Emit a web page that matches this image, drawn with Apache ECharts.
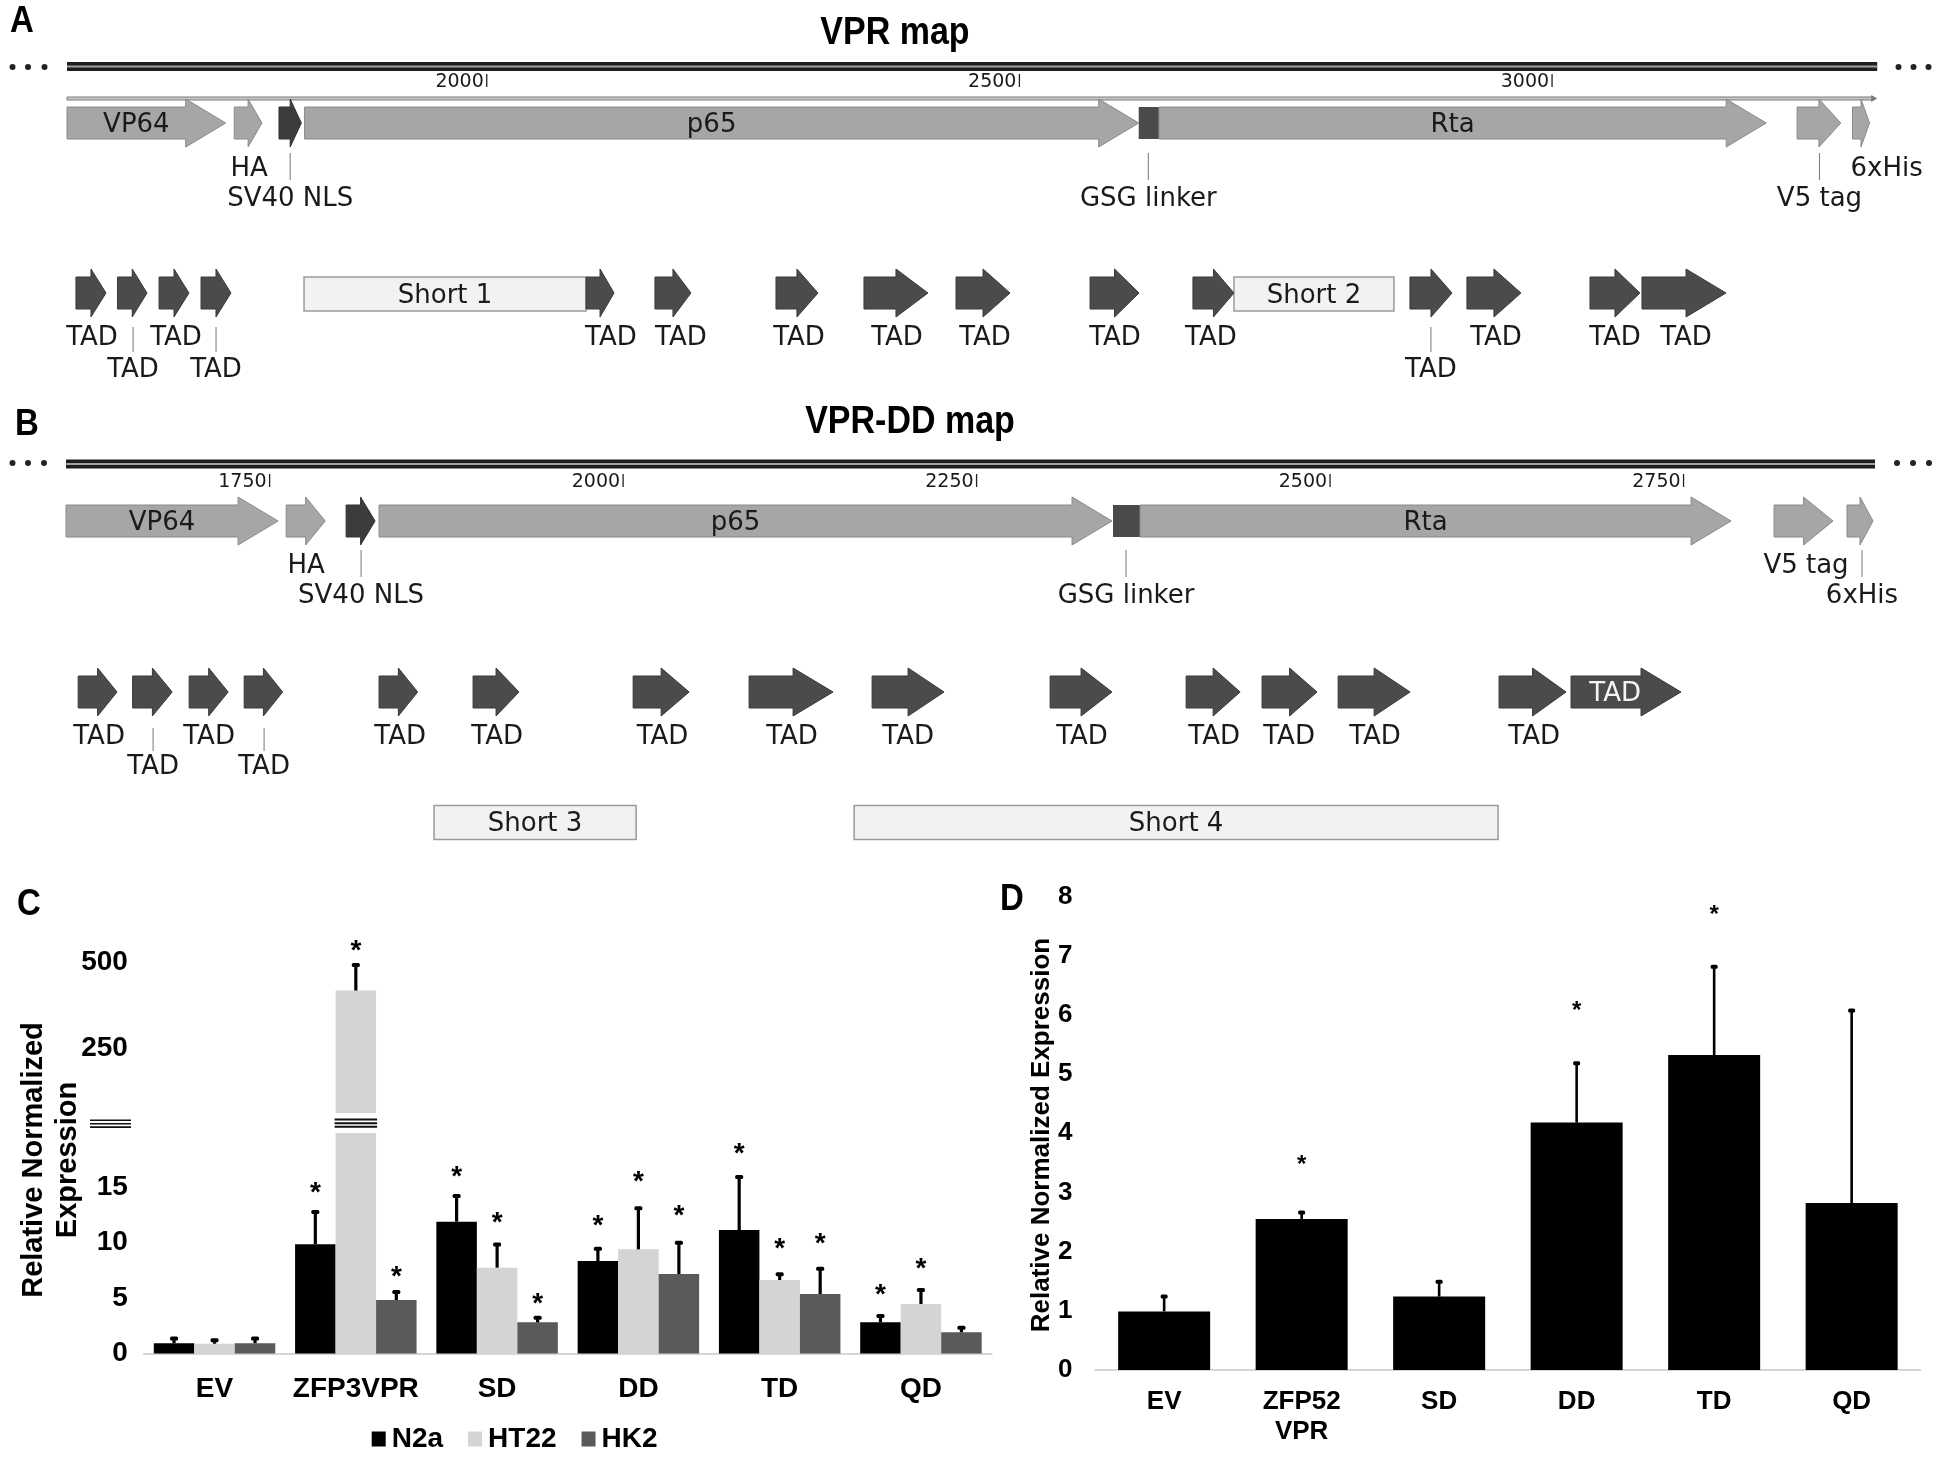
<!DOCTYPE html>
<html>
<head>
<meta charset="utf-8">
<script src="https://cdn.jsdelivr.net/npm/echarts@6/dist/echarts.min.js"></script>
<style>
  html, body { margin: 0; background: #fff; }
  #main { width: 1943px; height: 1461px; }
</style>
</head>
<body>
<div id="main"></div>
<script>
// ---------- Panel A : VPR map (positions in bp) ----------
const rulerTicksA = [2000, 2500, 3000];
// name, start, end, kind, label inside?
const featuresA = [
  ['VP64', 1606, 1755, 'light', true],
  ['HA', 1763, 1789, 'light', false],
  ['SV40 NLS', 1805, 1826, 'dark', false],
  ['p65', 1829, 2612, 'light', true],
  ['GSG linker', 2612, 2631, 'block', false],
  ['Rta', 2631, 3201, 'light', true],
  ['V5 tag', 3230, 3271, 'light', false],
  ['6xHis', 3282, 3298, 'light', false]
];
// text, position, row, leader line
const featLabelsA = [
  ['HA', 1777, 1, false],
  ['SV40 NLS', 1815.5, 2, true],
  ['GSG linker', 2621, 2, true],
  ['V5 tag', 3251, 2, true],
  ['6xHis', 3314, 1, false]
];
// start, end, label position, label row (0 = inside)
const tadA = [
  [1614.4, 1642.6, 1629.5, 1], [1653.4, 1681.1, 1668, 2], [1692.4, 1720.5, 1708.3, 1],
  [1731.8, 1759.9, 1745.9, 2], [2093.2, 2119.5, 2116.6, 1], [2157.9, 2191.7, 2182.3, 1],
  [2271.5, 2310.9, 2293.1, 1], [2354.1, 2414.2, 2385.1, 1], [2440.5, 2491.2, 2467.7, 1],
  [2566.3, 2612.3, 2589.7, 1], [2662.9, 2701.4, 2679.8, 1], [2866.6, 2906.1, 2886.3, 2],
  [2920.1, 2970.8, 2947.4, 1], [3035.6, 3082.5, 3059.1, 1], [3084.4, 3163.3, 3125.7, 1]
];
const shortA = [['Short 1', 1828.5, 2093.2], ['Short 2', 2701.4, 2851.6]];

// ---------- Panel B : VPR-DD map ----------
const rulerTicksB = [1750, 2000, 2250, 2500, 2750];
const featuresB = [
  ['VP64', 1606, 1756, 'light', true],
  ['HA', 1761.7, 1789.3, 'light', false],
  ['SV40 NLS', 1804.1, 1824.6, 'dark', false],
  ['p65', 1827.4, 2345.8, 'light', true],
  ['GSG linker', 2346.5, 2365.6, 'block', false],
  ['Rta', 2365.6, 2783.6, 'light', true],
  ['V5 tag', 2814.0, 2855.7, 'light', false],
  ['6xHis', 2865.6, 2884.0, 'light', false]
];
const featLabelsB = [
  ['HA', 1775.8, 1, false],
  ['SV40 NLS', 1814.7, 2, true],
  ['GSG linker', 2355.7, 2, true],
  ['V5 tag', 2836.6, 1, false],
  ['6xHis', 2876.2, 2, true]
];
const tadB = [
  [1614.6, 1642.1, 1629.4, 1], [1653.1, 1681.1, 1667.6, 2], [1693.1, 1720.7, 1707.2, 1],
  [1732.0, 1759.2, 1746.1, 2], [1827.4, 1854.7, 1842.3, 1], [1893.9, 1926.4, 1910.9, 1],
  [2007.1, 2046.7, 2027.9, 1], [2089.1, 2148.5, 2119.5, 1], [2176.1, 2227.0, 2201.6, 1],
  [2302.0, 2345.8, 2324.6, 1], [2398.2, 2436.4, 2418.0, 1], [2451.9, 2490.8, 2471.0, 1],
  [2505.7, 2556.6, 2531.8, 1], [2619.5, 2666.9, 2644.3, 1], [2670.4, 2748.2, 2701.6, 0]
];
const shortB = [['Short 3', 1866.3, 2009.2], ['Short 4', 2163.4, 2618.8]];

// ---------- Panel C ----------
const catsC = ['EV', 'ZFP3VPR', 'SD', 'DD', 'TD', 'QD'];
const n2a = [0.93, 9.84, 11.87, 8.33, 11.12, 2.81];
const n2aErr = [0.52, 3.0, 2.41, 1.2, 4.87, 0.66];
const n2aStar = [null, 15.0, 16.4, 12.0, 18.5, 5.8];
const ht22 = [0.88, 417, 7.73, 9.38, 6.62, 4.46];
const ht22Err = [0.4, 77, 2.17, 3.79, 0.6, 1.35];
const ht22Star = [null, 549, 12.3, 16.0, 9.9, 8.1];
const hk2 = [0.93, 4.82, 2.81, 7.16, 5.36, 1.91];
const hk2Err = [0.52, 0.81, 0.5, 2.91, 2.37, 0.51];
const hk2Star = [null, 7.4, 5.0, 12.9, 10.4, null];
const ticksCLow = [0, 5, 10, 15];
const ticksCHigh = [250, 500];

// ---------- Panel D ----------
const catsD = ['EV', 'ZFP52\nVPR', 'SD', 'DD', 'TD', 'QD'];
const dVals = [0.99, 2.55, 1.24, 4.18, 5.32, 2.82];
const dErr = [0.27, 0.13, 0.27, 1.02, 1.51, 3.27];
const dStar = [null, 3.54, null, 6.15, 7.76, null];

// axis ranges
const extA = [1606, 3305.2];
const extB = [1606, 2885.4];
const cLowMax = 19.86, cHighMin = 61, cHighMax = 564;

const MAPFONT = '"DejaVu Sans"';
const BOLD = '"Liberation Sans", Arial, sans-serif';
const bwC = 40.5, bwD = 92;
const TXT_DY = 2;   // small downward nudge for map labels

// layout of the two maps (pixel rows)
const layA = { rulerY: 66.5, strandY: 98.5, tickTop: 74, tickBot: 87, tickLabelY: 81, featY: 123,
  featRows: [167, 197], leader: [153, 180], tadY: 293, tadRows: [336, 368], tadLeader: [327, 352], shortY: 294 };
const layB = { rulerY: 464, strandY: null, tickTop: 474, tickBot: 487, tickLabelY: 481, featY: 521,
  featRows: [564, 594], leader: [550, 577], tadY: 692, tadRows: [735, 765], tadLeader: [728, 751], shortY: 822.5 };

function arrowPts(x1, x2, y, bodyH, headH) {
  const hl = Math.min(40, (x2 - x1) / 2);
  const xh = x2 - hl;
  return [[x1, y - bodyH / 2], [xh, y - bodyH / 2], [xh, y - headH / 2], [x2, y],
    [xh, y + headH / 2], [xh, y + bodyH / 2], [x1, y + bodyH / 2]];
}

function txt(text, x, y, size, fill) {
  return { type: 'text', style: { text: text, x: x, y: y + TXT_DY, font: size + 'px ' + MAPFONT,
    fill: fill || '#1a1a1a', align: 'center', verticalAlign: 'middle' } };
}

function mapSeries(g, L, feats, featLabels, tads, shorts, ticks, ext) {
  const base = { type: 'custom', xAxisIndex: g, yAxisIndex: g, silent: true, animation: false, clip: false };
  const X = (api, v) => api.coord([v, 0])[0];
  return [
    // ruler + strand line
    Object.assign({}, base, {
      data: [[ext[0], ext[1]]],
      renderItem: function (p, api) {
        const a = X(api, api.value(0)), b = X(api, api.value(1));
        const y = L.rulerY;
        const ch = [
          { type: 'rect', shape: { x: a, y: y - 4.5, width: b - a, height: 9 }, style: { fill: '#1e1e1e' } },
          { type: 'rect', shape: { x: a, y: y - 1, width: b - a, height: 2 }, style: { fill: '#a0a0a0' } }
        ];
        if (L.strandY) {
          const s = L.strandY;
          ch.push({ type: 'rect', shape: { x: a, y: s - 1.5, width: b - a - 4, height: 3 }, style: { fill: '#c8c8c8', stroke: '#7a7a7a', lineWidth: 1 } });
          ch.push({ type: 'polygon', shape: { points: [[b - 6, s - 3.5], [b, s], [b - 6, s + 3.5]] }, style: { fill: '#7a7a7a' } });
        }
        return { type: 'group', children: ch };
      }
    }),
    // ruler ticks
    Object.assign({}, base, {
      data: ticks.map(t => [t]),
      renderItem: function (p, api) {
        const x = X(api, api.value(0));
        return { type: 'group', children: [
          { type: 'line', shape: { x1: x, y1: L.tickTop, x2: x, y2: L.tickBot }, style: { stroke: '#222', lineWidth: 1.3 } },
          { type: 'text', style: { text: String(api.value(0)), x: x - 3, y: L.tickLabelY + 1, font: '19px ' + MAPFONT,
            fill: '#1a1a1a', align: 'right', verticalAlign: 'middle' } }
        ] };
      }
    }),
    // short boxes
    Object.assign({}, base, {
      data: shorts.map(s => [s[1], s[2]]),
      renderItem: function (p, api) {
        const a = X(api, api.value(0)), b = X(api, api.value(1));
        return { type: 'group', children: [
          { type: 'rect', shape: { x: a, y: L.shortY - 17, width: b - a, height: 34 },
            style: { fill: '#f2f2f2', stroke: '#9a9a9a', lineWidth: 1.5 } },
          txt(shorts[p.dataIndex][0], (a + b) / 2, L.shortY, 26)
        ] };
      }
    }),
    // features
    Object.assign({}, base, {
      data: feats.map(f => [f[1], f[2]]),
      renderItem: function (p, api) {
        const f = feats[p.dataIndex];
        const a = X(api, api.value(0)), b = X(api, api.value(1));
        const y = L.featY;
        const ch = [];
        if (f[3] === 'block') {
          ch.push({ type: 'rect', shape: { x: a, y: y - 16, width: b - a, height: 32 }, style: { fill: '#4a4a4a' } });
        } else {
          const dark = f[3] === 'dark';
          ch.push({ type: 'polygon', shape: { points: arrowPts(a, b, y, 32, 48) },
            style: { fill: dark ? '#3c3c3c' : '#a6a6a6', stroke: dark ? '#333' : '#8a8a8a', lineWidth: 1 } });
        }
        if (f[4]) {
          const hl = Math.min(40, (b - a) / 2);
          ch.push(txt(f[0], (a + b) / 2 - hl / 4, y, 26));
        }
        return { type: 'group', children: ch };
      }
    }),
    // feature labels outside
    Object.assign({}, base, {
      data: featLabels.map(l => [l[1]]),
      renderItem: function (p, api) {
        const l = featLabels[p.dataIndex];
        const x = X(api, api.value(0));
        const ch = [txt(l[0], x, L.featRows[l[2] - 1], 26)];
        if (l[3]) ch.push({ type: 'line', shape: { x1: x, y1: L.leader[0], x2: x, y2: L.leader[1] }, style: { stroke: '#777', lineWidth: 1 } });
        return { type: 'group', children: ch };
      }
    }),
    // TAD arrows
    Object.assign({}, base, {
      data: tads.map(t => [t[0], t[1], t[2], t[3]]),
      renderItem: function (p, api) {
        const a = X(api, api.value(0)), b = X(api, api.value(1)), lx = X(api, api.value(2));
        const row = api.value(3);
        const y = L.tadY;
        const ch = [{ type: 'polygon', shape: { points: arrowPts(a, b, y, 32, 48) },
          style: { fill: '#4b4b4b', stroke: '#3a3a3a', lineWidth: 1 } }];
        if (row === 0) {
          ch.push(txt('TAD', lx, y, 26, '#f4f4f4'));
        } else {
          ch.push(txt('TAD', lx, L.tadRows[row - 1], 26));
          if (row === 2) ch.push({ type: 'line', shape: { x1: lx, y1: L.tadLeader[0], x2: lx, y2: L.tadLeader[1] }, style: { stroke: '#777', lineWidth: 1 } });
        }
        return { type: 'group', children: ch };
      }
    })
  ];
}

// ---------- bar chart helpers ----------
function errItems(vals, errs, k, keep) {
  const out = [];
  vals.forEach((v, i) => { if (v != null && keep(v)) out.push([i, v, v + errs[i], k]); });
  return out;
}
function starItems(stars, k, keep) {
  const out = [];
  stars.forEach((s, i) => { if (s != null && keep(s)) out.push([i, s, k]); });
  return out;
}
function errSeries(g, items, bw, lw, capW) {
  return { type: 'custom', xAxisIndex: g, yAxisIndex: g, data: items, silent: true, z: 4, clip: false,
    renderItem: function (p, api) {
      const i = api.value(0), k = api.value(3);
      const b = api.coord([i, api.value(1)]), t = api.coord([i, api.value(2)]);
      const x = b[0] + (k - 1) * bw;
      return { type: 'group', children: [
        { type: 'line', shape: { x1: x, y1: b[1], x2: x, y2: t[1] + 1 }, style: { stroke: '#000', lineWidth: lw } },
        { type: 'rect', shape: { x: x - capW / 2, y: t[1] - 1, width: capW, height: 4, r: 1.5 }, style: { fill: '#000' } }
      ] };
    } };
}
function starSeries(g, items, bw, size, dy) {
  return { type: 'custom', xAxisIndex: g, yAxisIndex: g, data: items, silent: true, z: 4, clip: false,
    renderItem: function (p, api) {
      const c = api.coord([api.value(0), api.value(1)]);
      const x = c[0] + (api.value(2) - 1) * bw;
      return { type: 'text', style: { text: '*', x: x, y: c[1] + dy, font: 'bold ' + size + 'px ' + BOLD,
        fill: '#000', align: 'center', verticalAlign: 'middle' } };
    } };
}

const groupsC = [[n2a, n2aErr, n2aStar], [ht22, ht22Err, ht22Star], [hk2, hk2Err, hk2Star]];
const lowKeep = v => v <= cLowMax, highKeep = v => v > cLowMax;
let errLow = [], errHigh = [], starLow = [], starHigh = [], breaks = [];
groupsC.forEach((gr, k) => {
  errLow = errLow.concat(errItems(gr[0], gr[1], k, lowKeep));
  errHigh = errHigh.concat(errItems(gr[0], gr[1], k, highKeep));
  starLow = starLow.concat(starItems(gr[2], k, lowKeep));
  starHigh = starHigh.concat(starItems(gr[2], k, highKeep));
  gr[0].forEach((v, i) => { if (v > cLowMax) breaks.push([i, cLowMax, k]); });
});

const noAxis = { show: false };
const lightAxisLine = { show: true, lineStyle: { color: '#d6d6d6', width: 2 } };

function bigText(text, x, y, size, sy) {
  return { type: 'text', x: x, y: y, scaleY: sy || 1,
    style: { text: text, font: 'bold ' + size + 'px ' + BOLD, fill: '#000', align: 'center', verticalAlign: 'middle' } };
}

const option = {
  animation: false,
  backgroundColor: '#ffffff',
  grid: [
    { left: 67, top: 0, width: 1810.2, height: 1461, outerBoundsMode: 'none' },
    { left: 66, top: 0, width: 1809, height: 1461, outerBoundsMode: 'none' },
    { left: 143.9, top: 940, width: 847.7, height: 173, outerBoundsMode: 'none' },
    { left: 143.9, top: 1133, width: 847.7, height: 220.5, outerBoundsMode: 'none' },
    { left: 1095.4, top: 896.5, width: 825, height: 473.5, outerBoundsMode: 'none' }
  ],
  xAxis: [
    Object.assign({ gridIndex: 0, type: 'value', min: extA[0], max: extA[1] }, noAxis),
    Object.assign({ gridIndex: 1, type: 'value', min: extB[0], max: extB[1] }, noAxis),
    { gridIndex: 2, type: 'category', data: catsC, show: false },
    { gridIndex: 3, type: 'category', data: catsC, axisLine: lightAxisLine, axisTick: { show: false },
      axisLabel: { margin: 22, color: '#000', fontSize: 28, fontWeight: 'bold', fontFamily: BOLD, interval: 0 } },
    { gridIndex: 4, type: 'category', data: catsD, axisLine: lightAxisLine, axisTick: { show: false },
      axisLabel: { margin: 17, color: '#000', fontSize: 26, lineHeight: 30, fontWeight: 'bold', fontFamily: BOLD, interval: 0 } }
  ],
  yAxis: [
    Object.assign({ gridIndex: 0, type: 'value', min: 0, max: 1461, inverse: true }, noAxis),
    Object.assign({ gridIndex: 1, type: 'value', min: 0, max: 1461, inverse: true }, noAxis),
    { gridIndex: 2, type: 'value', min: cHighMin, max: cHighMax, splitLine: { show: false },
      axisLine: { show: false }, axisTick: { show: false },
      axisLabel: { customValues: ticksCHigh, margin: 16, color: '#000', fontSize: 28, fontWeight: 'bold', fontFamily: BOLD } },
    { gridIndex: 3, type: 'value', min: 0, max: cLowMax, splitLine: { show: false },
      axisLine: { show: false }, axisTick: { show: false },
      axisLabel: { customValues: ticksCLow, margin: 16, color: '#000', fontSize: 28, fontWeight: 'bold', fontFamily: BOLD } },
    { gridIndex: 4, type: 'value', min: 0, max: 8, interval: 1, splitLine: { show: false },
      axisLine: { show: false }, axisTick: { show: false },
      axisLabel: { margin: 23, color: '#000', fontSize: 26, fontWeight: 'bold', fontFamily: BOLD } }
  ],
  legend: {
    data: ['N2a', 'HT22', 'HK2'], left: 366.7, top: 1420, icon: 'rect', itemWidth: 14, itemHeight: 15,
    itemGap: 25, selectedMode: false,
    textStyle: { fontSize: 28, fontWeight: 'bold', fontFamily: BOLD, color: '#000', padding: [0, 0, 0, 1] }
  },
  series: [].concat(
    mapSeries(0, layA, featuresA, featLabelsA, tadA, shortA, rulerTicksA, extA),
    mapSeries(1, layB, featuresB, featLabelsB, tadB, shortB, rulerTicksB, extB),
    [
      { name: 'N2a', type: 'bar', xAxisIndex: 3, yAxisIndex: 3, data: n2a, barWidth: bwC, barGap: '0%', itemStyle: { color: '#000000' } },
      { name: 'HT22', type: 'bar', xAxisIndex: 3, yAxisIndex: 3, data: ht22, barWidth: bwC, barGap: '0%', itemStyle: { color: '#d4d4d4' } },
      { name: 'HK2', type: 'bar', xAxisIndex: 3, yAxisIndex: 3, data: hk2, barWidth: bwC, barGap: '0%', itemStyle: { color: '#5a5a5a' } },
      { name: 'HT22', type: 'bar', xAxisIndex: 2, yAxisIndex: 2, data: ht22.map(v => v > cLowMax ? v : '-'),
        barWidth: bwC, itemStyle: { color: '#d4d4d4' } },
      errSeries(3, errLow, bwC, 3.2, 8),
      errSeries(2, errHigh, bwC, 3.2, 8),
      starSeries(3, starLow, bwC, 28, 6),
      starSeries(2, starHigh, bwC, 28, 6),
      // axis break marks drawn across the clipped bar
      { type: 'custom', xAxisIndex: 3, yAxisIndex: 3, data: breaks, silent: true, z: 5, clip: false,
        renderItem: function (p, api) {
          const c = api.coord([api.value(0), api.value(1)]);
          const x = c[0] + (api.value(2) - 1) * bwC;
          const ch = [-13.5, -9.8, -6.2].map(dy => ({ type: 'line',
            shape: { x1: x - bwC / 2 - 1, y1: c[1] + dy, x2: x + bwC / 2 + 1, y2: c[1] + dy },
            style: { stroke: '#111', lineWidth: 2 } }));
          return { type: 'group', children: ch };
        } },
      { name: 'D', type: 'bar', xAxisIndex: 4, yAxisIndex: 4, data: dVals, barWidth: bwD, itemStyle: { color: '#000000' } },
      errSeries(4, errItems(dVals, dErr, 1, () => true), 0, 2.6, 7),
      starSeries(4, starItems(dStar, 1, () => true), 0, 24, 5)
    ]
  ),
  graphic: [
    // panel letters
    bigText('A', 22, 22, 33, 1.1),
    bigText('B', 27, 425, 33, 1.1),
    bigText('C', 29, 905, 33, 1.1),
    bigText('D', 1012, 900, 33, 1.1),
    // map titles
    bigText('VPR map', 895, 33, 34, 1.15),
    bigText('VPR-DD map', 910, 422, 34, 1.15),
    // continuation dots
    ...[[12.5, 67], [28, 67], [44.5, 67], [1898.5, 67], [1913.5, 67], [1928.5, 67],
        [12.5, 463], [28, 463], [44, 463], [1897, 463], [1913, 463], [1929, 463]].map(d => ({
      type: 'circle', shape: { cx: d[0], cy: d[1], r: 3 }, style: { fill: '#222' } })),
    // y axis titles
    { type: 'text', x: 51, y: 1160, rotation: Math.PI / 2,
      style: { text: 'Relative Normalized\nExpression', font: 'bold 29px ' + BOLD, lineHeight: 34,
        fill: '#000', align: 'center', verticalAlign: 'middle' } },
    { type: 'text', x: 1042, y: 1135, rotation: Math.PI / 2,
      style: { text: 'Relative Normalized Expression', font: 'bold 26px ' + BOLD,
        fill: '#000', align: 'center', verticalAlign: 'middle' } },
    // axis break sign on the C y axis
    ...[1120.3, 1123.7, 1127.1].map(y => ({ type: 'line', shape: { x1: 90, y1: y, x2: 131, y2: y },
      style: { stroke: '#111', lineWidth: 1.6 } }))
  ]
};

const chart = echarts.init(document.getElementById('main'), null, { renderer: 'canvas' });
chart.setOption(option);
</script>
</body>
</html>
